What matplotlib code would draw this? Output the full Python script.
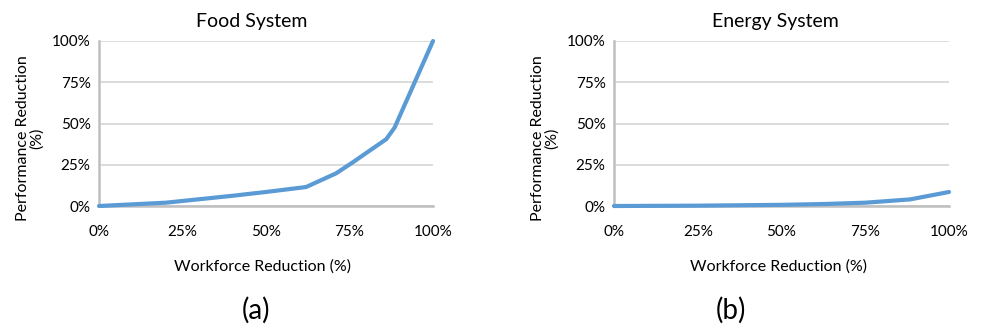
import matplotlib.pyplot as plt

plt.rcParams['font.family'] = ['Lato', 'DejaVu Sans']

# workforce reduction (fraction) vs performance reduction (fraction)
food_x = [0.0, 0.2, 0.4, 0.5, 0.62, 0.71, 0.76, 0.86, 0.885, 1.0]
food_y = [0.0, 0.02, 0.062, 0.085, 0.115, 0.198, 0.265, 0.405, 0.475, 1.0]
energy_x = [0.0, 0.25, 0.5, 0.625, 0.75, 0.884, 1.0]
energy_y = [0.0, 0.002, 0.007, 0.012, 0.02, 0.04, 0.085]

panels = [('Food System', food_x, food_y, '(a)'),
          ('Energy System', energy_x, energy_y, '(b)')]
ticks = [0, 0.25, 0.5, 0.75, 1.0]
ticklabels = ['0%', '25%', '50%', '75%', '100%']

W, H = 983, 335
fig = plt.figure(figsize=(W / 100, H / 100), dpi=100)

# pixel layout: axes left/right, title x, ylabel x, xlabel x, panel label x
lay = [dict(l=99, r=433, tx=252, yl=30, xl=263, px=256),
       dict(l=614, r=949, tx=775, yl=545, xl=779, px=731)]
y0, y1 = 206, 41

for (title, xs, ys, tag), p in zip(panels, lay):
    ax = fig.add_axes([p['l'] / W, 1 - y0 / H, (p['r'] - p['l']) / W, (y0 - y1) / H])
    ax.plot(xs, ys, color='#5b9bd5', lw=3.0, solid_capstyle='round', zorder=3, clip_on=False)
    ax.set_xlim(0, 1)
    ax.set_ylim(0, 1)
    ax.set_xticks(ticks)
    ax.set_xticklabels(ticklabels)
    ax.set_yticks(ticks)
    ax.set_yticklabels(ticklabels)
    ax.tick_params(length=0, labelsize=11, colors='#000000', pad=6)
    ax.tick_params(axis='x', pad=14)
    ax.grid(axis='y', color='#d9d9d9', lw=1.3)
    for s in ['top', 'right']:
        ax.spines[s].set_visible(False)
    for s in ['left', 'bottom']:
        ax.spines[s].set_color('#bfbfbf')
        ax.spines[s].set_linewidth(1.8)
    fig.text(p['tx'] / W, 1 - 22 / H, title, ha='center', va='center', fontsize=14)
    fig.text(p['yl'] / W, 1 - 138 / H, 'Performance Reduction\n(%)', rotation=90,
             ha='center', va='center', fontsize=11.5, linespacing=1.05)
    fig.text(p['xl'] / W, 1 - 267 / H, 'Workforce Reduction (%)', ha='center', va='center',
             fontsize=11.5)
    fig.text(p['px'] / W, 1 - 310 / H, tag, ha='center', va='center', fontsize=20)

fig.savefig('out.png', dpi=100)
